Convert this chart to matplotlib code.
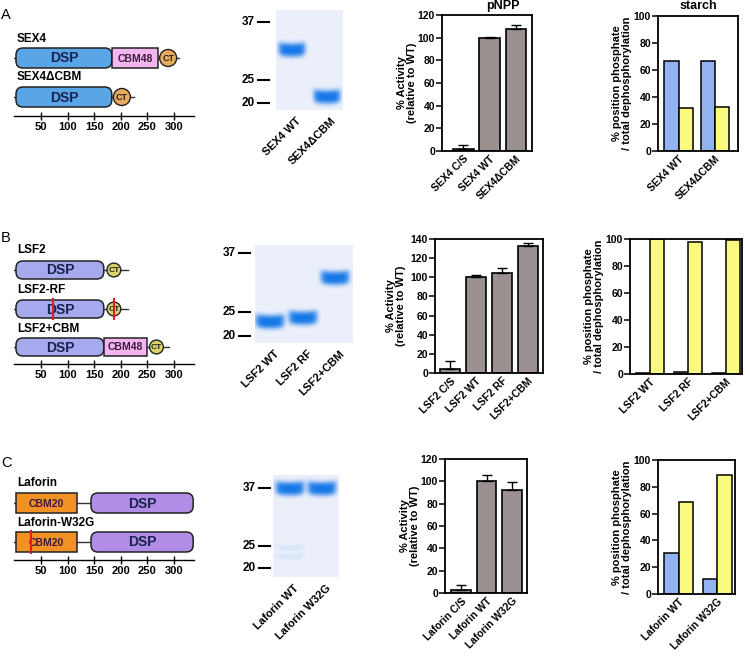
import numpy as np
import matplotlib.pyplot as plt
from matplotlib.patches import FancyBboxPatch, Rectangle, Ellipse

plt.rcParams['font.family'] = ['Liberation Sans', 'DejaVu Sans']
plt.rcParams['font.weight'] = 'bold'

W, H = 745, 660

# ---------------- data ----------------
# domain maps, amino-acid positions
scale_ticks = [50, 100, 150, 200, 250, 300]
sex4_domains = [("DSP", 3, 183), ("CBM48", 183, 270), ("CT", 273, 305)]
sex4_dcbm_domains = [("DSP", 3, 183), ("CT", 186, 218)]
lsf2_domains = [("DSP", 3, 168), ("CT", 174, 200)]
lsf2_cbm_domains = [("DSP", 3, 168), ("CBM48", 168, 250), ("CT", 254, 280)]
laforin_domains = [("CBM20", 3, 118), ("DSP", 144, 336)]
protein_lengths = {"SEX4": 310, "SEX4ΔCBM": 225, "LSF2": 214, "LSF2-RF": 214,
                   "LSF2+CBM": 290, "Laforin": 338, "Laforin-W32G": 338}
lsf2_rf_mutations = [73, 188]
laforin_w32g_mutations = [31]

# SDS-PAGE, kDa
marker_kda = [37, 25, 20]
gel_a_lanes = ["SEX4 WT", "SEX4ΔCBM"]
gel_a_bands = [30.6, 21.2]
gel_b_lanes = ["LSF2 WT", "LSF2 RF", "LSF2+CBM"]
gel_b_bands = [22.8, 23.6, 31.3]
gel_c_lanes = ["Laforin WT", "Laforin W32G"]
gel_c_bands = [36.8, 36.8]
gel_c_faint = [(0, 24.5), (0, 22.4)]

# pNPP activity (% of WT)
pnpp_a_labels = ["SEX4 C/S", "SEX4 WT", "SEX4ΔCBM"]
pnpp_a = [2, 100, 108]
pnpp_a_err = [3, 1, 3]
pnpp_b_labels = ["LSF2 C/S", "LSF2 WT", "LSF2 RF", "LSF2+CBM"]
pnpp_b = [4, 100, 104, 133]
pnpp_b_err = [9, 2.5, 5.5, 2.5]
pnpp_c_labels = ["Laforin C/S", "Laforin WT", "Laforin W32G"]
pnpp_c = [3, 100, 92]
pnpp_c_err = [4, 6, 7]

# starch: % position phosphate
starch_a_labels = ["SEX4 WT", "SEX4ΔCBM"]
starch_a_blue = [67, 66.5]
starch_a_yellow = [32, 32.5]
starch_b_labels = ["LSF2 WT", "LSF2 RF", "LSF2+CBM"]
starch_b_blue = [0.5, 1.5, 0.5]
starch_b_yellow = [100, 98, 99.5]
starch_c_labels = ["Laforin WT", "Laforin W32G"]
starch_c_blue = [30.5, 11]
starch_c_yellow = [69, 88.5]

# ---------------- helpers ----------------
fig = plt.figure(figsize=(W / 100, H / 100), dpi=100)


def add_px_axes(x0, y0, x1, y1):
    return fig.add_axes([x0 / W, 1 - y1 / H, (x1 - x0) / W, (y1 - y0) / H])


PX_PER_AA = 0.532
X_ORIGIN = 14.4
AA_MAX = 338


def diagram(top, axis_y, rows, colors, bar_h):
    ax = add_px_axes(X_ORIGIN, top, X_ORIGIN + AA_MAX * PX_PER_AA, axis_y)
    ax.set_xlim(0, AA_MAX)
    ax.set_ylim(axis_y, top)
    ax.patch.set_visible(False)
    for s in ['top', 'left', 'right']:
        ax.spines[s].set_visible(False)
    ax.spines['bottom'].set_linewidth(1.0)
    ax.set_yticks([])
    ax.set_xticks(scale_ticks)
    ax.tick_params(axis='x', direction='inout', length=6, width=1, labelsize=8, pad=1)
    for name, label_y, cy, domains, muts in rows:
        ax.text(5, label_y, name, ha='left', va='center', fontsize=8.5, clip_on=False)
        ax.plot([0, protein_lengths[name]], [cy, cy], color='#333333', lw=1, zorder=1)
        for dom, s, e in domains:
            fc = colors[dom]
            if dom == "DSP":
                p = FancyBboxPatch((s, cy - bar_h / 2), e - s, bar_h,
                                   boxstyle=f"round,pad=0,rounding_size={7 / PX_PER_AA}",
                                   mutation_aspect=PX_PER_AA, fc=fc, ec='#222222', lw=1.1, zorder=2)
                fs, tc = 10, '#1a2250'
            elif dom == "CT":
                d = e - s
                p = Ellipse(((s + e) / 2, cy), d, d * PX_PER_AA, fc=fc, ec='#222222', lw=1.0, zorder=3)
                fs, tc = 6.5 if d > 28 else 6, '#222222'
            else:
                p = Rectangle((s, cy - bar_h / 2), e - s, bar_h, fc=fc, ec='#222222', lw=1.1, zorder=2)
                fs, tc = 7.5, '#3a1a3a'
            ax.add_patch(p)
            ax.text((s + e) / 2, cy + 0.5, dom, ha='center', va='center', fontsize=fs,
                    color=tc, zorder=4)
        for m in muts:
            ax.plot([m, m], [cy - bar_h / 2 - 1, cy + bar_h / 2 + 1], color='#e01c1c', lw=1.5, zorder=5)
    return ax


def draw_gel(ov, box, marker_ys, tick_x1, lane_x, band_kda, band_w, labels, faint=()):
    x0, y0, x1, y1 = box
    ny, nx = int((y1 - y0) * 2), int((x1 - x0) * 2)
    ys = y0 + (np.arange(ny) + 0.5) / 2
    xs = x0 + (np.arange(nx) + 0.5) / 2
    X, Y = np.meshgrid(xs, ys)
    lk = np.log(marker_kda[::-1])
    my = marker_ys[::-1]

    def kda_y(k):
        return np.interp(np.log(k), lk, my)

    alpha = np.zeros_like(X)
    bands = [(i, k, 1.0, 7.0) for i, k in enumerate(band_kda)] + \
            [(i, k, 0.09, 3.0) for i, k in faint]
    for i, k, strength, half_h in bands:
        cx, cy = lane_x[i], kda_y(k)
        u = (X - cx) / (band_w / 2)
        a = np.exp(-np.abs(u) ** 6) * np.exp(-np.abs((Y - cy + 1.5 * u ** 2) / half_h) ** 3)
        alpha += strength * a
    alpha = np.clip(alpha, 0, 1)[..., None]
    bg = np.array([236, 240, 251]) / 255
    band = np.array([22, 120, 232]) / 255
    rgb = bg * (1 - alpha) + band * alpha
    ov.imshow(rgb, extent=(x0, x1, y1, y0), aspect='auto', interpolation='bilinear', zorder=1)
    for k, y in zip(marker_kda, marker_ys):
        ov.plot([tick_x1 - 11, tick_x1], [y, y], color='k', lw=1.5)
        ov.text(tick_x1 - 14, y, str(k), ha='right', va='center', fontsize=8.5)
    for cx, lab in zip(lane_x, labels):
        ov.text(cx + 4, y1 + 6, lab, rotation=45, ha='right', va='top',
                rotation_mode='anchor', fontsize=8)


def bar_axes(box, xlim, ymax, ystep):
    ax = add_px_axes(*box)
    ax.set_xlim(*xlim)
    ax.set_ylim(0, ymax)
    ax.set_yticks(np.arange(0, ymax + 1, ystep))
    for s in ax.spines.values():
        s.set_linewidth(1.3)
    ax.tick_params(axis='y', length=4, width=1.1, labelsize=7.5, pad=1)
    ax.tick_params(axis='x', length=0, labelsize=7.5, pad=2)
    return ax


def pnpp_panel(box, xlim, ymax, labels, vals, errs):
    ax = bar_axes(box, xlim, ymax, 20)
    x = np.arange(len(vals))
    ax.bar(x, vals, 0.78, color='#9b9191', edgecolor='k', lw=1.2, zorder=2)
    ax.errorbar(x, vals, yerr=[np.zeros(len(errs)), errs], fmt='none', ecolor='k',
                elinewidth=1, capsize=3.5, capthick=1, zorder=3)
    ax.set_xticks(x)
    ax.set_xticklabels(labels, rotation=45, ha='right', rotation_mode='anchor')
    return ax


def starch_panel(box, xlim, labels, blue, yellow, w):
    ax = bar_axes(box, xlim, 100, 20)
    x = np.arange(len(blue))
    ax.bar(x - w / 2, blue, w, color='#92b3f0', edgecolor='k', lw=1.1, zorder=2)
    ax.bar(x + w / 2, yellow, w, color='#fafa80', edgecolor='k', lw=1.1, zorder=2)
    ax.set_xticks(x)
    ax.set_xticklabels(labels, rotation=45, ha='right', rotation_mode='anchor')
    return ax


# ---------------- domain diagrams ----------------
diagram(30, 116,
        [("SEX4", 39, 58, sex4_domains, []),
         ("SEX4ΔCBM", 77, 97, sex4_dcbm_domains, [])],
        {"DSP": '#5aa5e6', "CBM48": '#f2b5f0', "CT": '#e9a95f'}, 20)
diagram(240, 364,
        [("LSF2", 250, 270, lsf2_domains, []),
         ("LSF2-RF", 290, 309, lsf2_domains, lsf2_rf_mutations),
         ("LSF2+CBM", 329, 347, lsf2_cbm_domains, [])],
        {"DSP": '#a7a9ee', "CBM48": '#f2b5f0', "CT": '#d9d36c'}, 18)
diagram(470, 560,
        [("Laforin", 483, 503, laforin_domains, []),
         ("Laforin-W32G", 523, 542, laforin_domains, laforin_w32g_mutations)],
        {"DSP": '#b28de8', "CBM20": '#f39224'}, 20)

# ---------------- bar charts ----------------
pnpp_panel((442, 15, 532, 151), (-0.8, 2.6), 120, pnpp_a_labels, pnpp_a, pnpp_a_err)
pnpp_panel((435, 239, 543, 373), (-0.6, 3.6), 140, pnpp_b_labels, pnpp_b, pnpp_b_err)
pnpp_panel((445, 459, 527, 593), (-0.63, 2.59), 120, pnpp_c_labels, pnpp_c, pnpp_c_err)

starch_panel((658, 16, 738, 151), (-0.58, 1.64), starch_a_labels, starch_a_blue, starch_a_yellow, 0.4)
starch_panel((630, 239, 742, 374), (-0.53, 2.42), starch_b_labels, starch_b_blue, starch_b_yellow, 0.37)
starch_panel((658, 460, 735, 594), (-0.55, 1.47), starch_c_labels, starch_c_blue, starch_c_yellow, 0.38)

# ---------------- overlay: gels and labels ----------------
ov = add_px_axes(0, 0, W, H)
ov.axis('off')

draw_gel(ov, (276, 10, 343, 110), [22, 80, 103], 269, [292, 327], gel_a_bands, 27, gel_a_lanes)
draw_gel(ov, (255, 245, 353, 343), [253, 312, 336], 250, [270, 303, 335], gel_b_bands, 29, gel_b_lanes)
draw_gel(ov, (273, 475, 339, 577), [488, 546, 568], 270, [290, 322], gel_c_bands, 29, gel_c_lanes,
         faint=gel_c_faint)

ov.set_xlim(0, W)
ov.set_ylim(H, 0)

for letter, y in [("A", 15), ("B", 238), ("C", 463)]:
    ov.text(6, y, letter, ha='center', va='center', fontsize=10.5, fontweight='normal')

ov.text(503, 6, "pNPP", ha='center', va='center', fontsize=9)
ov.text(698, 6, "starch", ha='center', va='center', fontsize=9)

for x, y in [(407, 83), (396, 306), (410, 526)]:
    ov.text(x, y, "% Activity\n(relative to WT)", rotation=90, ha='center', va='center',
            fontsize=8, linespacing=1.0)
for x, y in [(622, 83), (594, 306), (622, 527)]:
    ov.text(x, y, "% position phosphate\n/ total dephosphorylation", rotation=90,
            ha='center', va='center', fontsize=8, linespacing=1.0)

fig.savefig("out.png", dpi=100)
